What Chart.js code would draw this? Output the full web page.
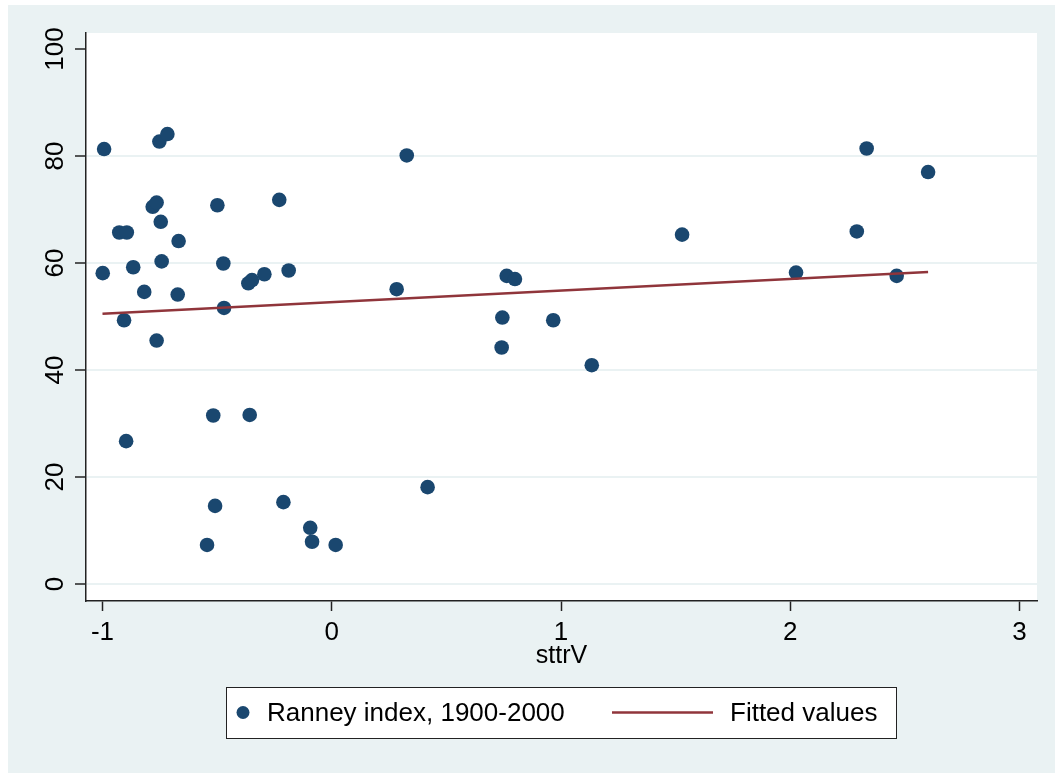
<!DOCTYPE html>
<html>
<head>
<meta charset="utf-8">
<script src="https://cdn.jsdelivr.net/npm/chart.js@4.4.0/dist/chart.umd.min.js"></script>
<style>
  html, body { margin: 0; padding: 0; background: #fff; overflow: hidden; }
  canvas { display: block; }
</style>
</head>
<body>
<canvas id="myChart" width="1055" height="773"></canvas>
<script>
// sttrV (x) and Ranney index (y)
const sttrV = [
  -0.993, -0.999, -0.927, -0.894, -0.906, -0.897, -0.866, -0.818,
  -0.781, -0.764, -0.764, -0.752, -0.717, -0.746, -0.742, -0.668,
  -0.672, -0.544, -0.517, -0.509, -0.499, -0.473, -0.470, -0.358,
  -0.364, -0.348, -0.294, -0.229, -0.188, -0.211, -0.094, -0.086,
  0.017, 0.283, 0.327, 0.418, 0.744, 0.741, 0.763, 0.799,
  0.966, 1.134, 1.528, 2.025, 2.290, 2.333, 2.464, 2.601
];
const ranney = [
  81.3, 58.1, 65.7, 65.7, 49.3, 26.7, 59.2, 54.6,
  70.5, 71.3, 45.5, 82.7, 84.1, 67.7, 60.3, 64.1,
  54.1, 7.3, 31.5, 14.6, 70.8, 59.9, 51.6, 31.6,
  56.2, 56.8, 57.9, 71.8, 58.6, 15.3, 10.5, 7.9,
  7.3, 55.1, 80.1, 18.1, 49.8, 44.2, 57.6, 57.0,
  49.3, 40.9, 65.3, 58.2, 65.9, 81.4, 57.6, 77.0
];
// fitted line end points
const fitX = [-1.0, 2.601];
const fitY = [50.5, 58.3];

const xTicks = [-1, 0, 1, 2, 3];
const yTicks = [0, 20, 40, 60, 80, 100];
const seriesNames = ['Ranney index, 1900-2000', 'Fitted values'];

const navy = '#1a476f';
const maroon = '#90353b';
const bg = '#eaf2f3';
const font = 'Liberation Sans, Arial, Helvetica, sans-serif';

const frame = {
  id: 'frame',
  beforeDraw(chart) {
    const {ctx, chartArea: a} = chart;
    ctx.save();
    ctx.fillStyle = '#fff';
    ctx.fillRect(0, 0, chart.width, chart.height);
    ctx.fillStyle = bg;
    ctx.fillRect(8, 5, chart.width - 8, chart.height - 5);
    ctx.fillStyle = '#fff';
    ctx.fillRect(a.left, a.top, a.right - a.left, a.bottom - a.top);
    ctx.restore();
  },
  afterDraw(chart) {
    // stata style legend box under the plot
    const ctx = chart.ctx;
    const bx = 226, by = 687, bw = 670, bh = 51;
    const cy = by + bh / 2;
    ctx.save();
    ctx.fillStyle = '#fff';
    ctx.fillRect(bx, by, bw, bh);
    ctx.strokeStyle = '#222';
    ctx.lineWidth = 1;
    ctx.strokeRect(bx + 0.5, by + 0.5, bw, bh);

    ctx.fillStyle = navy;
    ctx.beginPath();
    ctx.arc(243, cy, 6.5, 0, Math.PI * 2);
    ctx.fill();

    ctx.strokeStyle = maroon;
    ctx.lineWidth = 2.5;
    ctx.beginPath();
    ctx.moveTo(612, cy);
    ctx.lineTo(713, cy);
    ctx.stroke();

    ctx.fillStyle = '#000';
    ctx.font = '26px ' + font;
    ctx.textBaseline = 'middle';
    ctx.textAlign = 'left';
    ctx.fillText(seriesNames[0], 267, cy + 1);
    ctx.fillText(seriesNames[1], 730, cy + 1);
    ctx.restore();
  }
};

const ctx = document.getElementById('myChart').getContext('2d');
const myChart = new Chart(ctx, {
  type: 'scatter',
  data: {
    datasets: [{
      label: seriesNames[1],
      type: 'line',
      data: fitX.map((x, i) => ({x: x, y: fitY[i]})),
      borderColor: maroon,
      borderWidth: 2.5,
      pointRadius: 0,
      fill: false,
      order: 0
    }, {
      label: seriesNames[0],
      data: sttrV.map((x, i) => ({x: x, y: ranney[i]})),
      backgroundColor: navy,
      pointRadius: 7.3,
      pointBorderWidth: 0,
      order: 1
    }]
  },
  options: {
    responsive: false,
    animation: false,
    layout: { padding: { left: 0, top: 33, right: 18, bottom: 102 } },
    plugins: {
      legend: { display: false },
      tooltip: { enabled: false }
    },
    scales: {
      x: {
        type: 'linear',
        min: -1.072,
        max: 3.076,
        afterBuildTicks: (scale) => { scale.ticks = xTicks.map(v => ({value: v})); },
        afterFit: (scale) => { scale.height = 70; },
        grid: { drawOnChartArea: false, tickLength: 10, tickColor: '#222', tickWidth: 1.5 },
        border: { color: '#222', width: 1.5 },
        ticks: { color: '#000', font: { family: font, size: 26 }, padding: 6, maxRotation: 0 },
        title: { display: true, text: 'sttrV', color: '#000', font: { family: font, size: 25 }, padding: { top: 0, bottom: 0 } }
      },
      y: {
        type: 'linear',
        min: -3.18,
        max: 102.99,
        afterBuildTicks: (scale) => { scale.ticks = yTicks.map(v => ({value: v})); },
        afterFit: (scale) => { scale.width = 86; },
        grid: {
          color: (c) => (c.tick && c.tick.value === 100) ? 'rgba(0,0,0,0)' : bg,
          lineWidth: 2,
          tickLength: 11,
          tickColor: '#222',
          tickWidth: 1.5
        },
        border: { color: '#222', width: 1.5 },
        ticks: {
          color: '#000',
          font: { family: font, size: 26 },
          minRotation: 90,
          maxRotation: 90,
          crossAlign: 'center',
          padding: -3,
          autoSkip: false
        }
      }
    }
  },
  plugins: [frame]
});
</script>
</body>
</html>
